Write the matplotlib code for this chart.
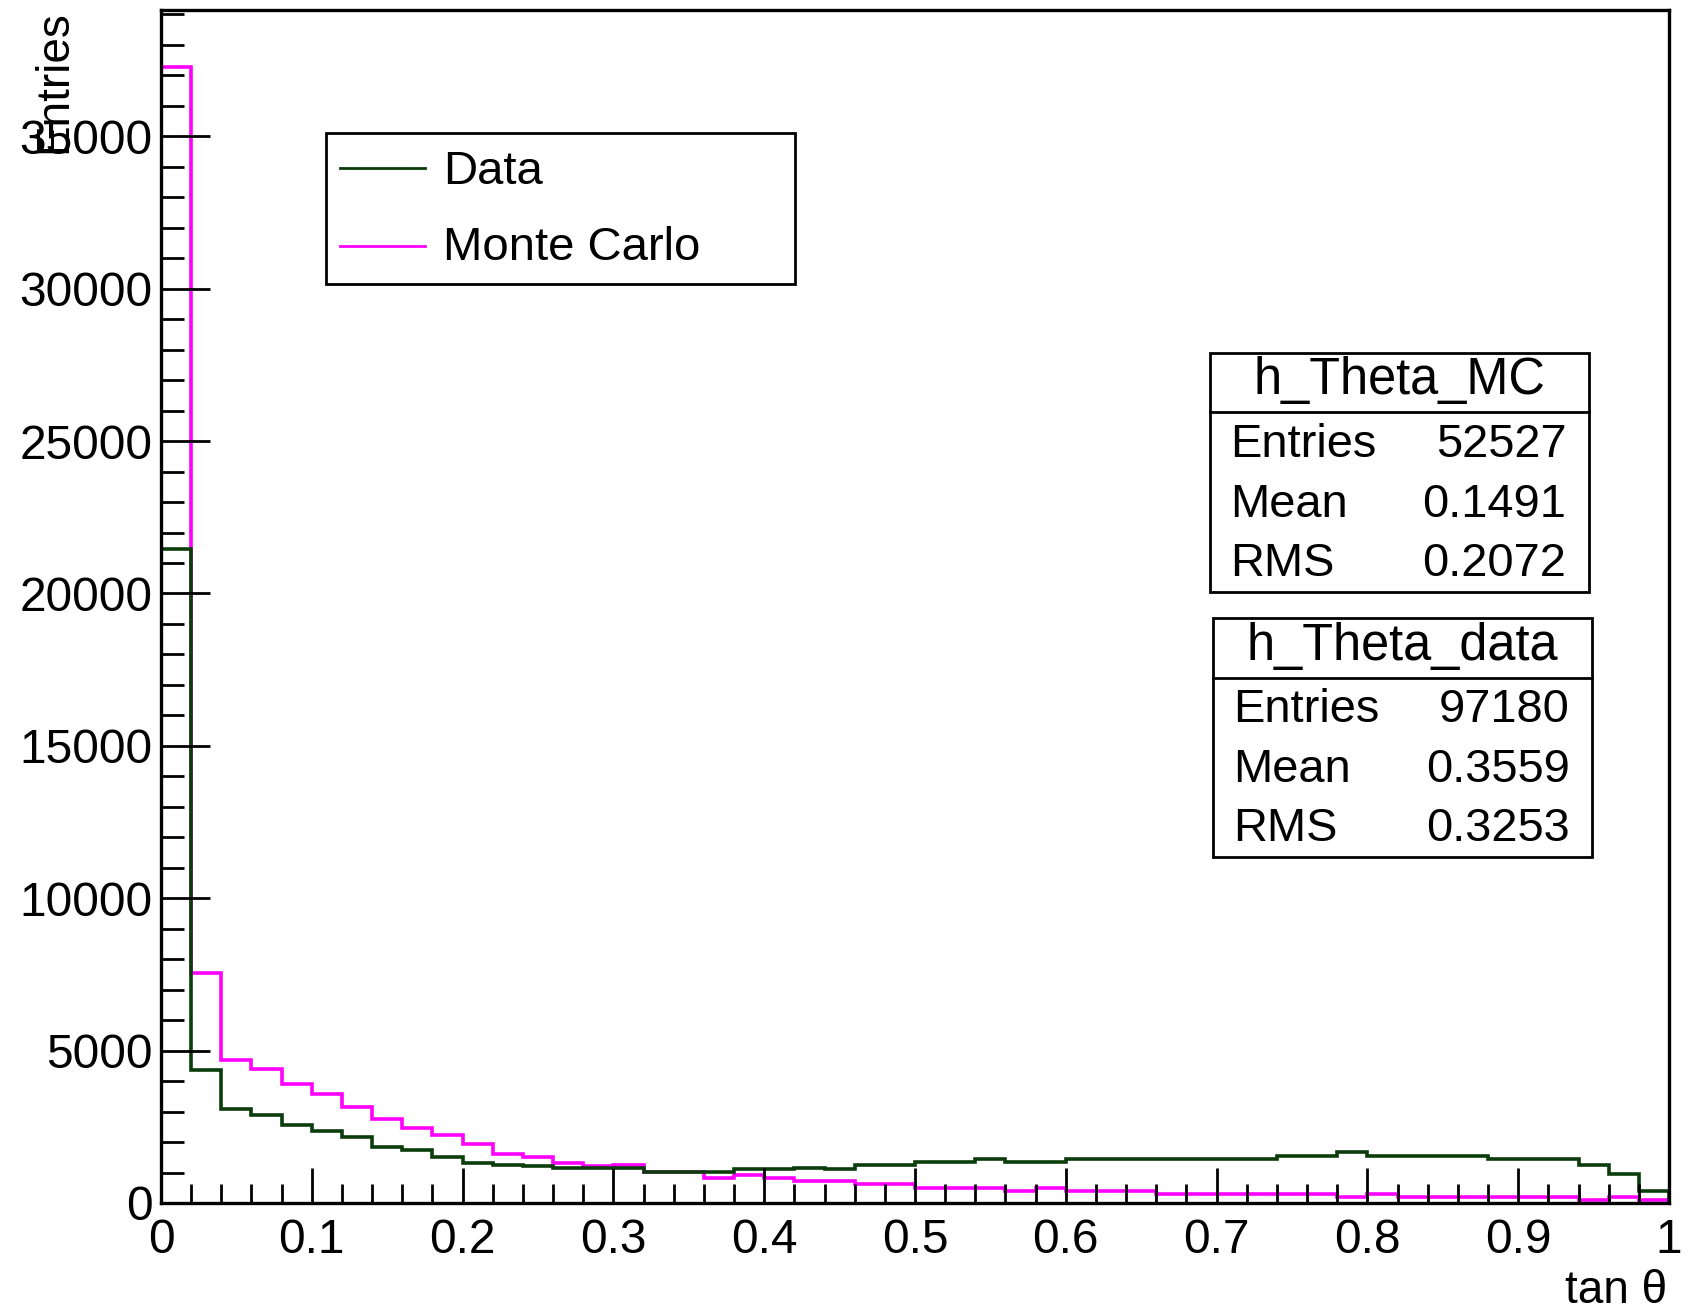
import matplotlib.pyplot as plt
import numpy as np
from matplotlib.patches import Rectangle
from matplotlib.lines import Line2D
from matplotlib.ticker import MultipleLocator

plt.rcParams['font.family'] = ['Liberation Sans', 'DejaVu Sans']

# 50 bins of width 0.02 in tan(theta)
bin_edges = np.linspace(0.0, 1.0, 51)

data_counts = [21470, 4350, 3095, 2874, 2566, 2357, 2159, 1850, 1740, 1520,
               1322, 1240, 1228, 1140, 1138, 1144, 1025, 1023, 1027, 1130,
               1128, 1133, 1131, 1238, 1235, 1344, 1348, 1450, 1358, 1355,
               1446, 1443, 1447, 1444, 1441, 1445, 1443, 1550, 1553, 1660,
               1545, 1542, 1546, 1543, 1437, 1434, 1436, 1250, 945, 410]

mc_counts = [37280, 7550, 4700, 4400, 3890, 3570, 3160, 2765, 2460, 2240,
             1920, 1620, 1510, 1310, 1215, 1245, 1025, 1023, 815, 920,
             815, 715, 712, 612, 615, 505, 503, 506, 405, 503,
             405, 403, 406, 300, 302, 298, 301, 299, 300, 200,
             305, 198, 200, 197, 199, 201, 198, 90, 198, 88]

legend_labels = ['Data', 'Monte Carlo']
stat_titles = ['h_Theta_MC', 'h_Theta_data']
stat_names = ['Entries', 'Mean', 'RMS']
mc_stats = ['52527', '0.1491', '0.2072']
data_stats = ['97180', '0.3559', '0.3253']

x_ticks = [0, 0.1, 0.2, 0.3, 0.4, 0.5, 0.6, 0.7, 0.8, 0.9, 1]
x_tick_labels = ['0', '0.1', '0.2', '0.3', '0.4', '0.5', '0.6', '0.7', '0.8', '0.9', '1']
y_ticks = [0, 5000, 10000, 15000, 20000, 25000, 30000, 35000]

data_color = '#0b3d0b'
mc_color = '#ff00ff'

W, H = 1691, 1312
fig = plt.figure(figsize=(W / 100, H / 100), dpi=100)


def fx(px):
    return px / W


def fy(py):
    return 1 - py / H


ax_left, ax_right, ax_top, ax_bottom = 161, 1669, 10, 1203
ax = fig.add_axes([fx(ax_left), fy(ax_bottom), (ax_right - ax_left) / W, (ax_bottom - ax_top) / H])

ax.stairs(mc_counts, bin_edges, color=mc_color, linewidth=2.6, baseline=0)
ax.stairs(data_counts, bin_edges, color=data_color, linewidth=2.6, baseline=0)

ax.set_xlim(0, 1)
ax.set_ylim(0, 1.05 * max(mc_counts))
ax.set_axisbelow(False)

ax.set_xticks(x_ticks)
ax.set_xticklabels(x_tick_labels)
ax.xaxis.set_minor_locator(MultipleLocator(0.02))
ax.set_yticks(y_ticks)
ax.set_yticklabels([str(v) for v in y_ticks])
ax.yaxis.set_minor_locator(MultipleLocator(1000))

ax.tick_params(axis='x', which='major', direction='in', length=25, width=2.0,
               labelsize=34.5, pad=11, top=False)
ax.tick_params(axis='x', which='minor', direction='in', length=13.5, width=2.0, top=False)
ax.tick_params(axis='y', which='major', direction='in', length=35, width=2.0,
               labelsize=34.5, pad=6, right=False)
ax.tick_params(axis='y', which='minor', direction='in', length=16.5, width=2.0, right=False)
for s in ax.spines.values():
    s.set_linewidth(2.4)

# axis titles
fig.text(fx(54), fy(10), 'Entries', rotation=90, ha='center', va='top', fontsize=33)
fig.text(fx(1667), fy(1291), 'tan θ', ha='right', va='center', fontsize=33)

# legend box
fig.patches.append(Rectangle((fx(326), fy(284)), (795 - 326) / W, (284 - 133) / H,
                             transform=fig.transFigure, facecolor='white',
                             edgecolor='black', linewidth=2.0, zorder=3))
for label, color, ly, tb in zip(legend_labels, [data_color, mc_color], [167.7, 246], [184, 259.5]):
    fig.lines.append(Line2D([fx(340), fx(425)], [fy(ly), fy(ly)], transform=fig.transFigure,
                            color=color, linewidth=2.0, zorder=4))
    fig.text(fx(443), fy(tb), label, ha='left', va='baseline', fontsize=34, zorder=4)


# statistics boxes
def stat_box(x0, y0, x1, y1, title, values):
    fig.patches.append(Rectangle((fx(x0), fy(y1)), (x1 - x0) / W, (y1 - y0) / H,
                                 transform=fig.transFigure, facecolor='white',
                                 edgecolor='black', linewidth=2.0, zorder=3))
    fig.lines.append(Line2D([fx(x0), fx(x1)], [fy(y0 + 59.6), fy(y0 + 59.6)],
                            transform=fig.transFigure, color='black', linewidth=2.0, zorder=4))
    fig.text(fx((x0 + x1) / 2), fy(y0 + 41.8), title, ha='center', va='baseline',
             fontsize=36.4, zorder=4)
    for name, val, dy in zip(stat_names, values, [104.4, 164.4, 223.3]):
        fig.text(fx(x0 + 20), fy(y0 + dy), name, ha='left', va='baseline', fontsize=33.8, zorder=4)
        fig.text(fx(x1 - 22), fy(y0 + dy), val, ha='right', va='baseline', fontsize=33.8, zorder=4)


stat_box(1210, 352.6, 1588.5, 592, stat_titles[0], mc_stats)
stat_box(1213.2, 618, 1591.7, 857.3, stat_titles[1], data_stats)

fig.savefig('out.png', dpi=100)
